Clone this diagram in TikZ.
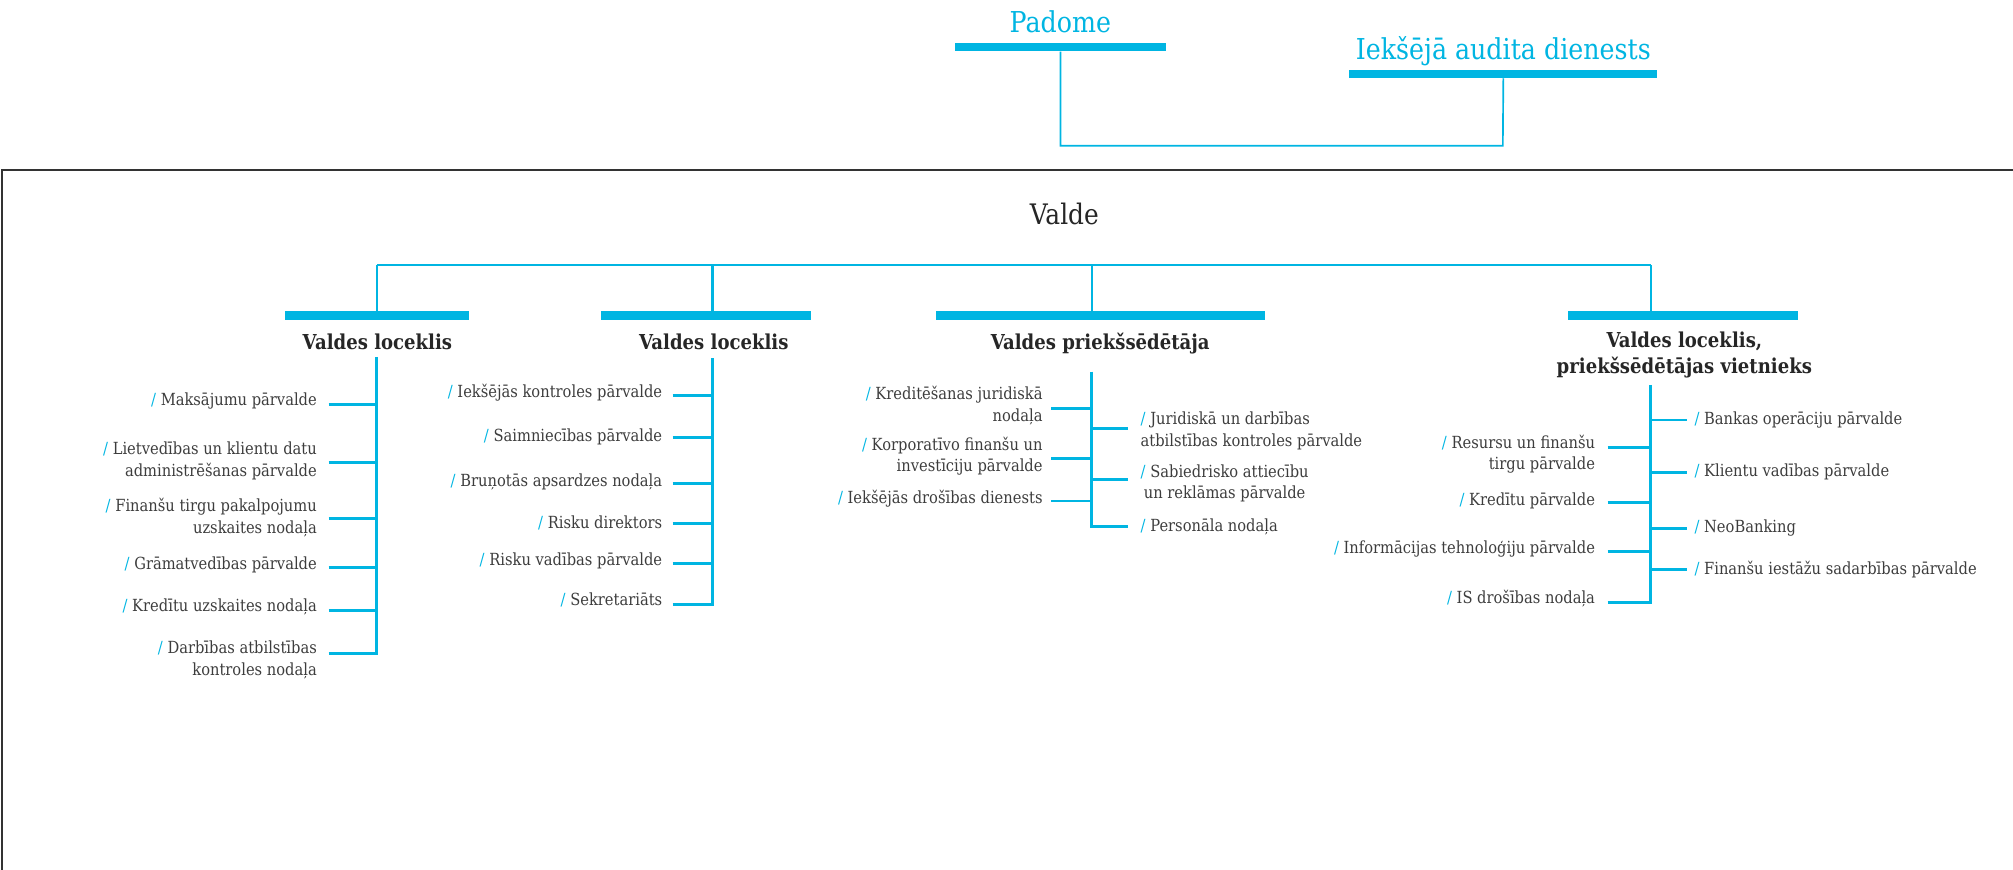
\documentclass[tikz,border=0pt]{standalone}
\usepackage{fontspec}
\setmainfont{DejaVu Serif}[FakeStretch=0.88]
\definecolor{skyblue}{HTML}{00B5E2}
\definecolor{ink}{HTML}{262626}
\definecolor{txtgrey}{HTML}{3D3D3D}
\definecolor{framegrey}{HTML}{333333}
\newcommand{\sls}{{\color{skyblue}/}\ }
\begin{document}
\begin{tikzpicture}[x=1pt,y=-1pt,
bar/.style={fill=skyblue,inner sep=0pt,minimum height=6.5pt},
board/.style={font=\fontsize{22.4}{26}\selectfont,text=skyblue,inner sep=0pt,anchor=base},
head/.style={font=\fontsize{16}{20}\selectfont\bfseries,text=ink,inner sep=0pt},
item/.style={font=\fontsize{13}{16.9}\selectfont,text=txtgrey,inner sep=0pt},
link/.style={draw=skyblue,line width=1.3pt},
twig/.style={draw=skyblue,line width=2.2pt}]
\clip (0,0) rectangle (1568,677.6);
% padome un audits
\node[bar,minimum width=164pt] (padbar) at (826,36.7) {};
\node[board] (padome) at (826,25.7) {Padome};
\node[bar,minimum width=240pt] (iabar) at (1171,57.5) {};
\node[board] (ia) at (1171,46.7) {Iekšējā audita dienests};
\coordinate (tj) at (1170.6,113.5);
\draw[link] (padbar.south) |- (tj) -- (iabar.south);
% valde
\draw[framegrey,line width=2pt] (1.5,700) -- (1.5,132.4) -- (1600,132.4);
\node[font=\fontsize{22}{26}\selectfont,text=ink,inner sep=0pt,anchor=base] (valde) at (829,174.5) {Valde};
\coordinate (vl) at (293.5,206.5);
\coordinate (vr) at (1286,206.5);
\draw[link,line width=1.8pt] (vl) -- (vr);
\foreach \n/\cx/\w/\vx in {1/293.5/143/293.5, 2/550/163/555, 3/857/256/850.5, 4/1311/179/1286} {
  \node[bar,minimum width=\w pt,minimum height=7pt] (b\n) at (\cx,245.8) {};
  \coordinate (v\n) at (\vx,206.5);
  \draw[link,line width=1.6pt] (v\n) -- (v\n |- b\n.north);
}
\node[head,anchor=base] (h1) at (294,272) {Valdes loceklis};
\node[head,anchor=base] (h2) at (556,272) {Valdes loceklis};
\node[head,anchor=base] (h3) at (857,272) {Valdes priekšsēdētāja};
\node[head,anchor=north,align=center] (h4) at (1312,258.3) {Valdes loceklis,\\priekšsēdētājas vietnieks};
% asis
\foreach \n/\sx/\st/\sb in {1/293.5/278/509.9, 2/555/279/471.7, 3/850/289.5/411.3, 4/1285.5/299.8/470.4} {
  \coordinate (s\n) at (\sx,\st);
  \coordinate (e\n) at (\sx,\sb);
  \draw[twig] (s\n) -- (e\n);
}
% 1. kolonna
\foreach \ty/\by/\txt [count=\i] in {
  312.3/314.9/{Maksājumu pārvalde},
  358.9/360/{Lietvedības un klientu datu\\administrēšanas pārvalde},
  403/403.7/{Finanšu tirgu pakalpojumu\\uzskaites nodaļa},
  440/441.9/{Grāmatvedības pārvalde},
  472.5/475.3/{Kredītu uzskaites nodaļa},
  514/508.8/{Darbības atbilstības\\kontroles nodaļa}} {
  \node[item,anchor=east,align=right] (a\i) at (247,\ty) {\sls\txt};
  \coordinate (ka\i) at (256,\by);
  \draw[twig] (ka\i) -- (ka\i -| s1);
}
% 2. kolonna
\foreach \ty/\by/\txt [count=\i] in {
  305.8/308.2/{Iekšējās kontroles pārvalde},
  340.6/340.9/{Saimniecības pārvalde},
  375.1/376.4/{Bruņotās apsardzes nodaļa},
  407/407.6/{Risku direktors},
  436.7/438.7/{Risku vadības pārvalde},
  467.3/470.6/{Sekretariāts}} {
  \node[item,anchor=east,align=right] (m\i) at (516,\ty) {\sls\txt};
  \coordinate (km\i) at (524,\by);
  \draw[twig] (km\i) -- (km\i -| s2);
}
% 3. kolonna
\foreach \ty/\by/\txt [count=\i] in {
  315.7/318/{Kreditēšanas juridiskā\\nodaļa},
  355.3/357/{Korporatīvo finanšu un\\investīciju pārvalde},
  388.6/390.2/{Iekšējās drošības dienests}} {
  \node[item,anchor=east,align=right] (p\i) at (812.3,\ty) {\sls\txt};
  \coordinate (kp\i) at (819,\by);
  \draw[twig] (kp\i) -- (kp\i -| s3);
}
\foreach \ty/\by/\al/\txt [count=\i] in {
  335.5/334/left/{Juridiskā un darbības\\atbilstības kontroles pārvalde},
  376.6/373.8/center/{Sabiedrisko attiecību\\un reklāmas pārvalde},
  410.2/410.2/left/{Personāla nodaļa}} {
  \node[item,anchor=west,align=\al] (q\i) at (888.3,\ty) {\sls\txt};
  \coordinate (kq\i) at (878.8,\by);
  \draw[twig] (kq\i -| s3) -- (kq\i);
}
% 4. kolonna
\foreach \ty/\by/\txt [count=\i] in {
  353.7/348.7/{Resursu un finanšu\\tirgu pārvalde},
  390.2/391.5/{Kredītu pārvalde},
  427.8/429.6/{Informācijas tehnoloģiju pārvalde},
  466/469.1/{IS drošības nodaļa}} {
  \node[item,anchor=east,align=right] (r\i) at (1242.6,\ty) {\sls\txt};
  \coordinate (kr\i) at (1252.3,\by);
  \draw[twig] (kr\i) -- (kr\i -| s4);
}
\foreach \ty/\txt [count=\i] in {
  327.1/{Bankas operāciju pārvalde},
  367.8/{Klientu vadības pārvalde},
  411.5/{NeoBanking},
  443.9/{Finanšu iestāžu sadarbības pārvalde}} {
  \node[item,anchor=west] (w\i) at (1319.7,\ty) {\sls\txt};
  \coordinate (kw\i) at (1314,\ty);
  \draw[twig] (kw\i -| s4) -- (kw\i);
}
\end{tikzpicture}
\end{document}
